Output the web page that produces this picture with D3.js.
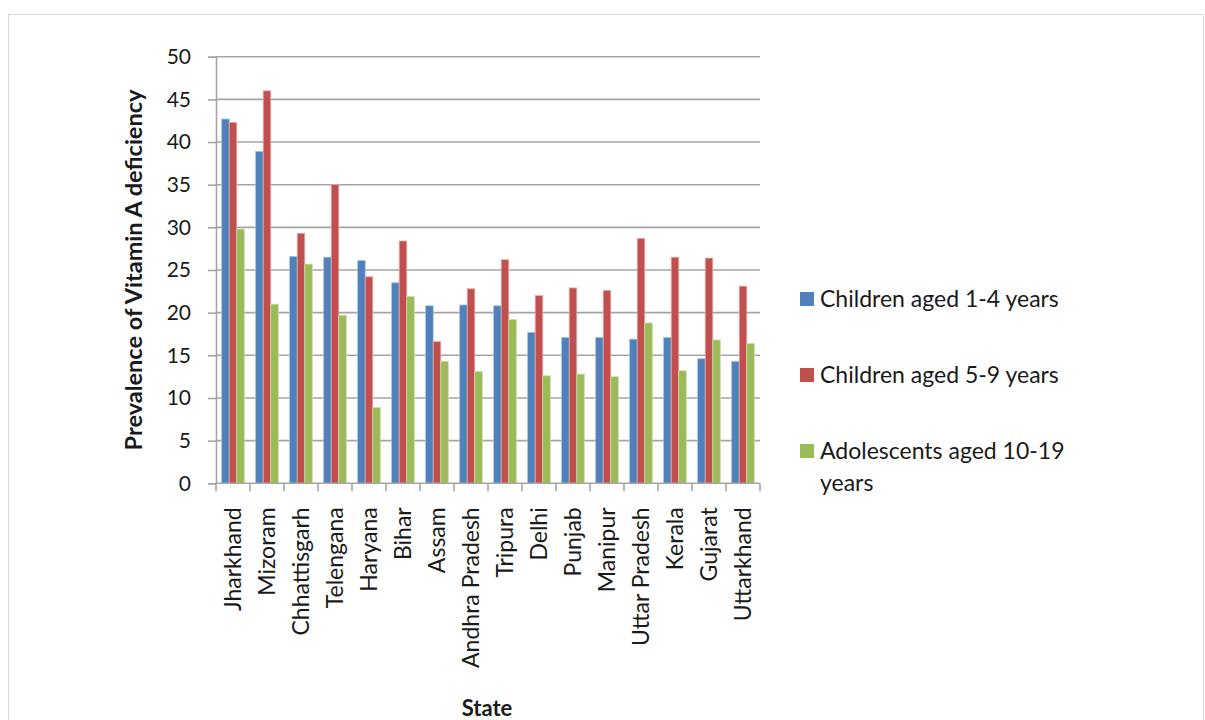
<!DOCTYPE html>
<html>
<head>
<meta charset="utf-8">
<script src="https://cdn.jsdelivr.net/npm/d3@7"></script>
<style>
  html, body { margin: 0; padding: 0; background: #fff; }
  svg { display: block; font-family: Lato, "Open Sans", sans-serif; }
</style>
</head>
<body>
<svg id="chart" width="1205" height="720"></svg>
<script>
// Prevalence of Vitamin A deficiency (%) by state and age group
const states = ["Jharkhand", "Mizoram", "Chhattisgarh", "Telengana", "Haryana", "Bihar",
  "Assam", "Andhra Pradesh", "Tripura", "Delhi", "Punjab", "Manipur",
  "Uttar Pradesh", "Kerala", "Gujarat", "Uttarkhand"];

const seriesNames = ["Children aged 1-4 years", "Children aged 5-9 years", "Adolescents aged 10-19 years"];

const children1to4 = [42.7, 38.9, 26.6, 26.5, 26.1, 23.5, 20.8, 20.9, 20.8, 17.7, 17.1, 17.1, 16.9, 17.1, 14.6, 14.3];
const children5to9 = [42.3, 46.0, 29.3, 35.0, 24.2, 28.4, 16.6, 22.8, 26.2, 22.0, 22.9, 22.6, 28.7, 26.5, 26.4, 23.1];
const adolescents10to19 = [29.8, 21.0, 25.7, 19.7, 8.9, 21.9, 14.3, 13.1, 19.2, 12.6, 12.8, 12.5, 18.8, 13.2, 16.8, 16.4];

const yTicks = [0, 5, 10, 15, 20, 25, 30, 35, 40, 45, 50];
const colors = ["#4F81BD", "#C0504D", "#9BBB59"];
const edgeColors = ["#A9C0E0", "#E4A9A7", "#CDDDAD"];

const seriesValues = [children1to4, children5to9, adolescents10to19];

const svg = d3.select("#chart");

// outer chart frame
svg.append("rect")
  .attr("x", 8.5).attr("y", 14.5)
  .attr("width", 1195).attr("height", 720)
  .attr("fill", "none").attr("stroke", "#D9D9D9").attr("stroke-width", 1);

const plot = { left: 216, right: 760, top: 56.7, bottom: 483.3 };

const x0 = d3.scaleBand()
  .domain(states)
  .range([plot.left, plot.right])
  .paddingInner(1 / 3)
  .paddingOuter(1 / 6);

const x1 = d3.scaleBand()
  .domain(d3.range(seriesNames.length))
  .range([0, x0.bandwidth()]);

const y = d3.scaleLinear().domain([0, 50]).range([plot.bottom, plot.top]);

// horizontal gridlines
svg.append("g").selectAll("line")
  .data(yTicks.filter(d => d > 0))
  .join("line")
  .attr("x1", plot.left).attr("x2", plot.right)
  .attr("y1", d => y(d)).attr("y2", d => y(d))
  .attr("stroke", "#A5A5A5").attr("stroke-width", 1.6);

// bars
const groups = svg.append("g").selectAll("g")
  .data(states)
  .join("g")
  .attr("transform", d => `translate(${x0(d)},0)`);

groups.selectAll("rect")
  .data((d, i) => seriesValues.map((vals, s) => ({ s, v: vals[i] })))
  .join("rect")
  .attr("x", d => x1(d.s))
  .attr("width", x1.bandwidth())
  .attr("y", d => y(d.v))
  .attr("height", d => y(0) - y(d.v))
  .attr("fill", d => colors[d.s])
  .attr("stroke", d => edgeColors[d.s])
  .attr("stroke-width", 0.8);

// y axis
const yAxis = svg.append("g")
  .attr("transform", `translate(${plot.left},0)`)
  .call(d3.axisLeft(y).tickValues(yTicks).tickSize(8).tickPadding(17));
yAxis.select(".domain").attr("stroke", "#A5A5A5").attr("stroke-width", 1.6);
yAxis.selectAll(".tick line").attr("stroke", "#A5A5A5").attr("stroke-width", 1.6);
yAxis.selectAll(".tick text")
  .attr("font-family", "Lato, sans-serif")
  .attr("font-size", 21)
  .attr("fill", "#1a1a1a");

// x axis line with tick marks at category boundaries
const xg = svg.append("g");
xg.append("line")
  .attr("x1", plot.left).attr("x2", plot.right)
  .attr("y1", plot.bottom).attr("y2", plot.bottom)
  .attr("stroke", "#A5A5A5").attr("stroke-width", 1.6);
const boundaries = states.map(s => x0(s) - x0.step() * x0.paddingOuter()).concat([plot.right]);
xg.selectAll("line.tk")
  .data(boundaries)
  .join("line")
  .attr("class", "tk")
  .attr("x1", d => d).attr("x2", d => d)
  .attr("y1", plot.bottom).attr("y2", plot.bottom + 8)
  .attr("stroke", "#A5A5A5").attr("stroke-width", 1.6);

// rotated category labels
xg.selectAll("text")
  .data(states)
  .join("text")
  .attr("transform", d => `translate(${x0(d) + x0.bandwidth() / 2 + 8},${plot.bottom + 24}) rotate(-90)`)
  .attr("text-anchor", "end")
  .attr("font-size", 23)
  .attr("fill", "#1a1a1a")
  .text(d => d);

// axis titles
svg.append("text")
  .attr("transform", `translate(142,${(plot.top + plot.bottom) / 2}) rotate(-90)`)
  .attr("text-anchor", "middle")
  .attr("font-weight", "bold")
  .attr("font-size", 23.5)
  .attr("fill", "#1a1a1a")
  .text("Prevalence of Vitamin A deficiency");

svg.append("text")
  .attr("x", 487).attr("y", 716)
  .attr("text-anchor", "middle")
  .attr("font-weight", "bold")
  .attr("font-size", 22)
  .attr("fill", "#1a1a1a")
  .text("State");

// legend
const legendRows = [
  { lines: [seriesNames[0]], cy: 299 },
  { lines: [seriesNames[1]], cy: 375 },
  { lines: ["Adolescents aged 10-19", "years"], cy: 451 }
];
const legend = svg.append("g");
legendRows.forEach((row, i) => {
  legend.append("rect")
    .attr("x", 800).attr("y", row.cy - 7)
    .attr("width", 14).attr("height", 14)
    .attr("fill", colors[i]);
  const t = legend.append("text")
    .attr("x", 820).attr("y", row.cy + 8)
    .attr("font-size", 23)
    .attr("fill", "#1a1a1a");
  row.lines.forEach((ln, j) => {
    t.append("tspan").attr("x", 820).attr("dy", j === 0 ? 0 : 32).text(ln);
  });
});
</script>
</body>
</html>
